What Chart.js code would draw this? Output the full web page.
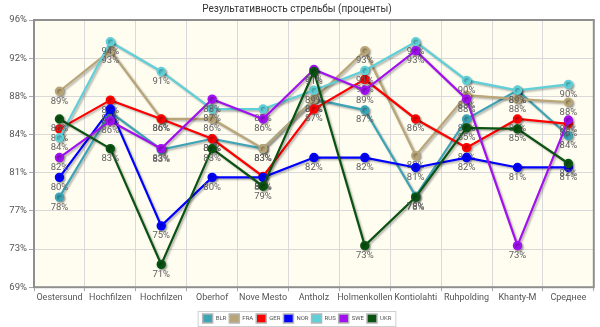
<!DOCTYPE html>
<html>
<head>
<meta charset="utf-8">
<script src="https://cdn.jsdelivr.net/npm/chart.js@4/dist/chart.umd.min.js"></script>
<style>
  html, body { margin: 0; padding: 0; background: #fff; }
</style>
</head>
<body>
<canvas id="shooting" width="600" height="327"></canvas>
<script>
const categories = ['Oestersund', 'Hochfilzen', 'Hochfilzen', 'Oberhof', 'Nove Mesto', 'Antholz',
                    'Holmenkollen', 'Kontiolahti', 'Ruhpolding', 'Khanty-M', 'Среднее'];

const blr = [78.1, 86.7, 82.9, 84.0, 83.0, 88.0, 86.9, 78.2, 86.0, 88.9, 84.3];
const fra = [88.8, 92.9, 86.0, 86.0, 83.0, 88.0, 92.9, 82.3, 88.4, 88.0, 87.7];
const ger = [85.0, 87.9, 86.0, 84.0, 80.2, 87.0, 90.0, 86.0, 83.1, 86.0, 85.5];
const nor = [80.1, 87.0, 75.2, 80.1, 80.1, 82.1, 82.1, 81.1, 82.1, 81.1, 81.1];
const rus = [84.1, 93.8, 90.8, 87.0, 87.0, 88.9, 90.9, 93.8, 89.9, 88.9, 89.5];
const swe = [82.1, 85.8, 83.0, 88.0, 86.0, 91.0, 88.9, 92.9, 88.0, 73.2, 85.9];
const ukr = [86.0, 83.0, 71.3, 83.0, 79.2, 90.8, 73.2, 78.1, 85.1, 85.0, 81.5];

const yTickLabels = ['69%', '73%', '77%', '81%', '84%', '88%', '92%', '96%'];

const teams = [
    { name: 'BLR', values: blr, color: '#3da4b6' },
    { name: 'FRA', values: fra, color: '#b9a678' },
    { name: 'GER', values: ger, color: '#ff0000' },
    { name: 'NOR', values: nor, color: '#0000ff' },
    { name: 'RUS', values: rus, color: '#5fd0d8' },
    { name: 'SWE', values: swe, color: '#a010f0' },
    { name: 'UKR', values: ukr, color: '#0a5312' }
];

const FONT = 'Roboto, "Liberation Sans", sans-serif';

// cream plot background and grey frame round the chart area
const plotFrame = {
    id: 'plotFrame',
    beforeDraw(chart) {
        const { ctx, chartArea: a } = chart;
        ctx.save();
        ctx.fillStyle = '#fffcf0';
        ctx.fillRect(a.left, a.top, a.right - a.left, a.bottom - a.top);
        ctx.restore();
    },
    beforeDatasetsDraw(chart) {
        const { ctx, chartArea: a } = chart;
        ctx.save();
        ctx.strokeStyle = '#8f8f8f';
        ctx.lineWidth = 2;
        ctx.strokeRect(a.left, a.top, a.right - a.left, a.bottom - a.top);
        ctx.restore();
    }
};

// soft shadow under each line, then the percent under every point
const lineShadow = {
    id: 'lineShadow',
    beforeDatasetDraw(chart) {
        const ctx = chart.ctx;
        ctx.save();
        ctx.shadowColor = 'rgba(0, 0, 0, 0.3)';
        ctx.shadowOffsetX = 1.5;
        ctx.shadowOffsetY = 1.5;
        ctx.shadowBlur = 2;
    },
    afterDatasetDraw(chart, args) {
        const ctx = chart.ctx;
        ctx.restore();
        const values = chart.data.datasets[args.index].data;
        ctx.save();
        ctx.font = '9.5px ' + FONT;
        ctx.fillStyle = '#5f5f5f';
        ctx.textAlign = 'center';
        ctx.textBaseline = 'middle';
        args.meta.data.forEach((pt, i) => {
            ctx.fillText(Math.round(values[i]) + '%', pt.x, pt.y + 10);
        });
        ctx.restore();
    }
};

// thin border round the legend items
const legendFrame = {
    id: 'legendFrame',
    afterDraw(chart) {
        const boxes = chart.legend.legendHitBoxes;
        if (!boxes.length) return;
        const left = Math.min(...boxes.map(b => b.left)) - 5;
        const right = Math.max(...boxes.map(b => b.left + b.width)) + 4;
        const top = Math.min(...boxes.map(b => b.top)) - 3;
        const bottom = Math.max(...boxes.map(b => b.top + b.height)) + 3;
        const ctx = chart.ctx;
        ctx.save();
        ctx.strokeStyle = '#cfcfcf';
        ctx.lineWidth = 1;
        ctx.strokeRect(left + 0.5, top + 0.5, right - left, bottom - top);
        ctx.restore();
    }
};

new Chart(document.getElementById('shooting'), {
    type: 'line',
    data: {
        labels: categories,
        datasets: teams.map((t, i) => ({
            label: t.name,
            data: t.values,
            order: teams.length - i,   // later teams drawn on top
            borderColor: t.color,
            backgroundColor: t.color,
            pointBackgroundColor: t.color,
            pointBorderColor: t.color,
            borderWidth: 2.2,
            pointRadius: 3.6,
            tension: 0,
            fill: false
        }))
    },
    options: {
        responsive: false,
        animation: false,
        layout: { padding: { left: 0, right: 6, top: 0, bottom: -6 } },
        plugins: {
            title: {
                display: true,
                text: 'Результативность стрельбы (проценты)',
                color: '#333',
                font: { family: FONT, size: 10, weight: 'normal' },
                padding: { top: 3, bottom: 5 }
            },
            legend: {
                position: 'bottom',
                labels: {
                    color: '#555',
                    font: { family: FONT, size: 6 },
                    boxWidth: 10,
                    boxHeight: 9,
                    padding: 3,
                    sort: (a, b) => a.datasetIndex - b.datasetIndex,
                    generateLabels(chart) {
                        return Chart.defaults.plugins.legend.labels.generateLabels(chart).map(item => ({
                            ...item,
                            strokeStyle: '#b5b5b5',
                            lineWidth: 1.5
                        }));
                    }
                }
            },
            tooltip: { enabled: false }
        },
        scales: {
            x: {
                offset: true,
                afterFit(scale) { scale.height += 7; },
                grid: {
                    offset: true,
                    color: '#d9d9d9',
                    tickLength: 4,
                    tickColor: '#aaa'
                },
                border: { display: false },
                ticks: {
                    color: '#555',
                    font: { family: FONT, size: 9 },
                    maxRotation: 0,
                    autoSkip: false,
                    padding: 1
                }
            },
            y: {
                min: 69,
                max: 96,
                afterFit(scale) { scale.width = 34; },
                grid: {
                    color: '#d9d9d9',
                    tickLength: 5,
                    tickColor: '#aaa'
                },
                border: { display: false },
                ticks: {
                    count: yTickLabels.length,
                    color: '#555',
                    font: { family: FONT, size: 9.5 },
                    padding: 2,
                    callback: (value, index) => yTickLabels[index]
                }
            }
        }
    },
    plugins: [plotFrame, lineShadow, legendFrame]
});
</script>
</body>
</html>
